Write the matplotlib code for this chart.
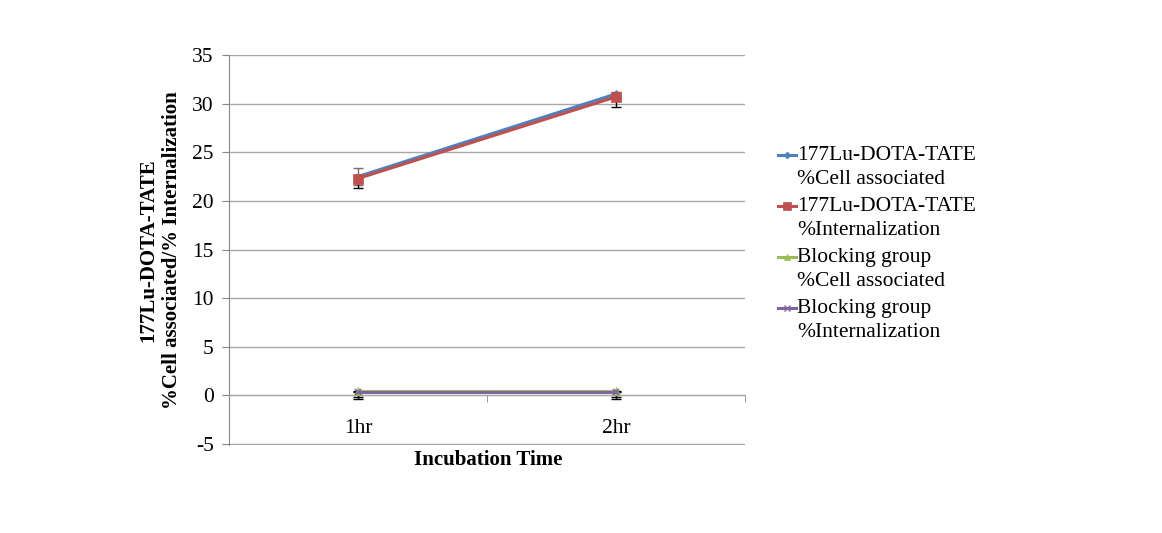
import matplotlib
matplotlib.use("Agg")
import matplotlib.pyplot as plt
from matplotlib.lines import Line2D
import numpy as np

categories = ["1hr", "2hr"]
series_names = [
    "177Lu-DOTA-TATE\n%Cell associated",
    "177Lu-DOTA-TATE\n%Internalization",
    "Blocking group\n%Cell associated",
    "Blocking group\n%Internalization",
]
lu_cell = [22.5, 31.0]
lu_int = [22.3, 30.7]
block_cell = [0.45, 0.45]
block_int = [0.3, 0.3]
# (lower, upper) error sizes
lu_cell_err = [[0.9, 0.2], [0.9, 0.2]]
lu_int_err = [[1.0, 1.0], [0.0, 0.0]]
block_cell_err = [[0.6, 0.6], [0.0, 0.0]]
block_int_err = [[0.7, 0.7], [0.0, 0.0]]
yticks = [-5, 0, 5, 10, 15, 20, 25, 30, 35]

colors = ["#4F81BD", "#C0504D", "#9BBB59", "#8064A2"]
markers = ["D", "s", "^", "x"]
msizes = [4.5, 6.5, 5.5, 5]
values = [lu_cell, lu_int, block_cell, block_int]
errs = [lu_cell_err, lu_int_err, block_cell_err, block_int_err]
errcolors = ["#707070", "black", "black", "black"]

plt.rcParams["font.family"] = ["Liberation Serif", "DejaVu Serif"]

fig = plt.figure(figsize=(11.62, 5.33), dpi=100)
W, H = 1162, 533
ax = fig.add_axes([229 / W, 1 - 445 / H, (745 - 229) / W, (445 - 55) / H])

x = np.arange(len(categories))
for vals, err, c, m, ms, ec in zip(values, errs, colors, markers, msizes, errcolors):
    ax.errorbar(x, vals, yerr=np.array(err), fmt="none", ecolor=ec, elinewidth=1, capsize=3.5, capthick=1, zorder=2)
    ax.plot(x, vals, color=c, marker=m, markersize=ms, linewidth=2.2, zorder=3,
            markeredgewidth=1.2 if m == "x" else 0.5)

ax.set_xlim(-0.5, 1.5)
ax.set_ylim(-5.1, 35)
ax.set_yticks(yticks)
ax.set_yticklabels([str(v) for v in yticks], fontsize=15.5)
ax.yaxis.grid(True, color="#A6A6A6", linewidth=1)
ax.set_axisbelow(True)

for s in ["top", "right"]:
    ax.spines[s].set_visible(False)
ax.spines["left"].set_color("#868686")
ax.spines["bottom"].set_color("#A6A6A6")
ax.spines["bottom"].set_position(("data", 0))
ax.tick_params(axis="y", direction="out", length=5, color="#868686", pad=6)

ax.set_xticks(x)
ax.set_xticklabels(categories, fontsize=15.5)
ax.tick_params(axis="x", which="major", length=0, pad=17)
ax.set_xticks([-0.5, 0.5, 1.5], minor=True)
ax.tick_params(axis="x", which="minor", length=5, direction="out", color="#868686")

fig.text(160 / W, 1 - 250 / H, "177Lu-DOTA-TATE\n%Cell associated/% Internalization",
         rotation=90, ha="center", va="center", fontsize=15, fontweight="bold",
         linespacing=1.25)
fig.text(488 / W, 1 - 460 / H, "Incubation Time", ha="center", va="center",
         fontsize=15, fontweight="bold")

# Legend drawn manually
y0 = 155
for i, (name, c, m, ms) in enumerate(zip(series_names, colors, markers, msizes)):
    yy = 1 - (y0 + i * 51) / H
    ln = Line2D([778 / W, 796 / W], [yy, yy], transform=fig.transFigure, color=c,
                linewidth=2.2, marker=None)
    fig.add_artist(ln)
    mk = Line2D([787 / W], [yy], transform=fig.transFigure, color=c, marker=m,
                markersize=ms - 1, linestyle="none",
                markeredgewidth=1.0 if m == "x" else 0.5)
    fig.add_artist(mk)
    fig.text(797 / W, yy + 9 / H, name, ha="left", va="top", fontsize=15.5, linespacing=1.35)

fig.savefig("out.png", dpi=100)
